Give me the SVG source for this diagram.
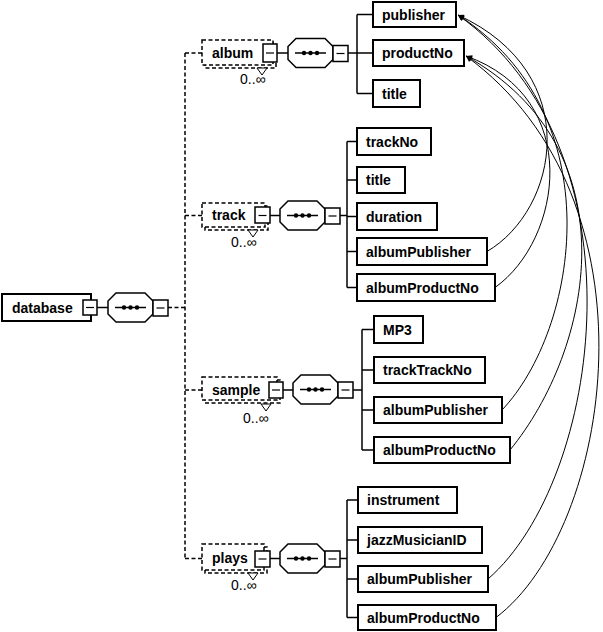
<svg xmlns="http://www.w3.org/2000/svg" xmlns:xlink="http://www.w3.org/1999/xlink" width="603" height="632" viewBox="0 0 603 632">
<style>
.box{fill:#fff;stroke:#000;stroke-width:2}
.dbox{fill:#fff;stroke:#000;stroke-width:1.5;stroke-dasharray:4,2.5}
.mbox{fill:#fff;stroke:#000;stroke-width:1.5}
.lbl{font-family:"Liberation Sans",Arial,sans-serif;font-weight:bold;font-size:14px;fill:#000}
.occ{font-family:"Liberation Sans",Arial,sans-serif;font-size:14px;fill:#000}
.ln{fill:none;stroke:#000;stroke-width:1.5}
.dln{fill:none;stroke:#000;stroke-width:1.5;stroke-dasharray:4,2.5}
.ref{fill:none;stroke:#000;stroke-width:1}
.tri{fill:#fff;stroke:#000;stroke-width:1}
</style>
<defs>
<marker id="ah" viewBox="0 0 10 10" refX="10" refY="5" markerWidth="8" markerHeight="6" markerUnits="userSpaceOnUse" orient="auto">
<path d="M0,0 L10,5 L0,10 z" fill="#000"/>
</marker>
<g id="seq">
<polygon points="8,0 37,0 45,8 45,21 37,29 8,29 0,21 0,8" fill="#fff" stroke="#000" stroke-width="1.5"/>
<line x1="7" y1="14.5" x2="38" y2="14.5" stroke="#000" stroke-width="1.5"/>
<circle cx="16" cy="14.5" r="2.2"/>
<circle cx="22.5" cy="14.5" r="2.2"/>
<circle cx="29" cy="14.5" r="2.2"/>
<rect x="45" y="7" width="15" height="16" fill="#fff" stroke="#000" stroke-width="1.5"/>
<line x1="48.5" y1="15" x2="56.5" y2="15" stroke="#000" stroke-width="1.2"/>
</g>
</defs>
<rect width="603" height="632" fill="#fff"/>

<g id="connectors">
<line class="ln" x1="97" y1="307.5" x2="108" y2="307.5"/>
<line class="dln" x1="168" y1="307.5" x2="185" y2="307.5"/>
<line class="dln" x1="185" y1="53" x2="185" y2="558.5"/>
<line class="dln" x1="185" y1="53" x2="202" y2="53"/>
<line class="dln" x1="185" y1="215.5" x2="202" y2="215.5"/>
<line class="dln" x1="185" y1="390" x2="202" y2="390"/>
<line class="dln" x1="185" y1="558.5" x2="202" y2="558.5"/>
<line class="ln" x1="277" y1="53" x2="288" y2="53"/>
<line class="ln" x1="348" y1="53" x2="357" y2="53"/>
<line class="ln" x1="357" y1="14.5" x2="357" y2="93.5"/>
<line class="ln" x1="357" y1="14.5" x2="373" y2="14.5"/>
<line class="ln" x1="357" y1="53" x2="373" y2="53"/>
<line class="ln" x1="357" y1="93.5" x2="373" y2="93.5"/>
<line class="ln" x1="270" y1="215.5" x2="280" y2="215.5"/>
<line class="ln" x1="340" y1="215.5" x2="347" y2="215.5"/>
<line class="ln" x1="347" y1="141.5" x2="347" y2="287.5"/>
<line class="ln" x1="347" y1="141.5" x2="357" y2="141.5"/>
<line class="ln" x1="347" y1="180" x2="357" y2="180"/>
<line class="ln" x1="347" y1="216.5" x2="357" y2="216.5"/>
<line class="ln" x1="347" y1="251.5" x2="357" y2="251.5"/>
<line class="ln" x1="347" y1="287.5" x2="357" y2="287.5"/>
<line class="ln" x1="283" y1="390" x2="293" y2="390"/>
<line class="ln" x1="353" y1="390" x2="362" y2="390"/>
<line class="ln" x1="362" y1="329.5" x2="362" y2="450"/>
<line class="ln" x1="362" y1="329.5" x2="374" y2="329.5"/>
<line class="ln" x1="362" y1="370" x2="374" y2="370"/>
<line class="ln" x1="362" y1="410" x2="374" y2="410"/>
<line class="ln" x1="362" y1="450" x2="374" y2="450"/>
<line class="ln" x1="270" y1="558.5" x2="280" y2="558.5"/>
<line class="ln" x1="340" y1="558.5" x2="347" y2="558.5"/>
<line class="ln" x1="347" y1="500" x2="347" y2="617.5"/>
<line class="ln" x1="347" y1="500" x2="358" y2="500"/>
<line class="ln" x1="347" y1="540" x2="358" y2="540"/>
<line class="ln" x1="347" y1="579" x2="358" y2="579"/>
<line class="ln" x1="347" y1="617.5" x2="358" y2="617.5"/>
<path class="ref" marker-end="url(#ah)" d="M487,251.5 C558,210 586,74 458,15"/>
<path class="ref" marker-end="url(#ah)" d="M495,287.5 C562,240 584,98 466,56"/>
<path class="ref" marker-end="url(#ah)" d="M502,410 C578,330 614,115 458,15"/>
<path class="ref" marker-end="url(#ah)" d="M510,450 C592,350 634,150 466,56"/>
<path class="ref" marker-end="url(#ah)" d="M488,579 C602,480 648,150 458,15"/>
<path class="ref" marker-end="url(#ah)" d="M496,617.5 C612,530 664,200 466,56"/>
</g>

<g id="database">
<rect class="box" x="2" y="294" width="89" height="27"/>
<text class="lbl" x="12" y="312.5">database</text>
<rect class="mbox" x="83" y="300" width="14" height="15"/>
<line x1="86" y1="307.5" x2="94" y2="307.5" stroke="#000" stroke-width="1.2"/>
</g>
<g id="database-seq"><use xlink:href="#seq" x="108" y="293"/></g>

<g id="album">
<rect class="dbox" x="205" y="43" width="71" height="25"/>
<rect class="dbox" x="202" y="40" width="71" height="25"/>
<text class="lbl" x="212" y="58">album</text>
<rect class="mbox" x="263" y="44" width="14" height="18"/>
<line x1="266" y1="53" x2="274" y2="53" stroke="#000" stroke-width="1.2"/>
<polygon class="tri" points="257,68 267,68 262,75"/>
<text class="occ" x="240" y="84">0..∞</text>
</g>
<g id="album-seq"><use xlink:href="#seq" x="288" y="38.5"/></g>
<g id="publisher"><rect class="box" x="373" y="2" width="83" height="25"/><text class="lbl" x="382" y="19.5">publisher</text></g>
<g id="productNo"><rect class="box" x="373" y="40" width="91" height="26"/><text class="lbl" x="382" y="58">productNo</text></g>
<g id="album-title"><rect class="box" x="373" y="80" width="47" height="27"/><text class="lbl" x="382" y="98.5">title</text></g>

<g id="track">
<rect class="dbox" x="205" y="206" width="63" height="24"/>
<rect class="dbox" x="202" y="203" width="63" height="24"/>
<text class="lbl" x="212" y="220">track</text>
<rect class="mbox" x="255" y="207" width="15" height="16"/>
<line x1="258.5" y1="215.5" x2="266.5" y2="215.5" stroke="#000" stroke-width="1.2"/>
<polygon class="tri" points="248,230 258,230 253,237"/>
<text class="occ" x="231" y="247">0..∞</text>
</g>
<g id="track-seq"><use xlink:href="#seq" x="280" y="201"/></g>
<g id="trackNo"><rect class="box" x="357" y="128" width="74" height="27"/><text class="lbl" x="366" y="146.5">trackNo</text></g>
<g id="track-title"><rect class="box" x="357" y="167" width="48" height="26"/><text class="lbl" x="366" y="185">title</text></g>
<g id="duration"><rect class="box" x="357" y="203" width="80" height="27"/><text class="lbl" x="366" y="221.5">duration</text></g>
<g id="track-albumPublisher"><rect class="box" x="357" y="238" width="130" height="27"/><text class="lbl" x="366" y="256.5">albumPublisher</text></g>
<g id="track-albumProductNo"><rect class="box" x="357" y="274" width="138" height="27"/><text class="lbl" x="366" y="292.5">albumProductNo</text></g>

<g id="sample">
<rect class="dbox" x="205" y="380" width="75" height="23"/>
<rect class="dbox" x="202" y="377" width="75" height="23"/>
<text class="lbl" x="212" y="394.5">sample</text>
<rect class="mbox" x="269" y="382" width="14" height="16"/>
<line x1="272" y1="390" x2="280" y2="390" stroke="#000" stroke-width="1.2"/>
<polygon class="tri" points="261,404 271,404 266,411"/>
<text class="occ" x="243" y="423">0..∞</text>
</g>
<g id="sample-seq"><use xlink:href="#seq" x="293" y="375"/></g>
<g id="MP3"><rect class="box" x="374" y="316" width="49" height="27"/><text class="lbl" x="383" y="334.5">MP3</text></g>
<g id="trackTrackNo"><rect class="box" x="374" y="357" width="111" height="26"/><text class="lbl" x="383" y="375">trackTrackNo</text></g>
<g id="sample-albumPublisher"><rect class="box" x="374" y="397" width="128" height="26"/><text class="lbl" x="383" y="415">albumPublisher</text></g>
<g id="sample-albumProductNo"><rect class="box" x="374" y="437" width="136" height="26"/><text class="lbl" x="383" y="455">albumProductNo</text></g>

<g id="plays">
<rect class="dbox" x="205" y="547" width="62" height="26"/>
<rect class="dbox" x="202" y="544" width="62" height="26"/>
<text class="lbl" x="212" y="563">plays</text>
<rect class="mbox" x="255" y="551" width="15" height="16"/>
<line x1="258.5" y1="559" x2="266.5" y2="559" stroke="#000" stroke-width="1.2"/>
<polygon class="tri" points="248,573 258,573 253,580"/>
<text class="occ" x="231" y="590">0..∞</text>
</g>
<g id="plays-seq"><use xlink:href="#seq" x="280" y="544"/></g>
<g id="instrument"><rect class="box" x="358" y="487" width="99" height="26"/><text class="lbl" x="367" y="505">instrument</text></g>
<g id="jazzMusicianID"><rect class="box" x="358" y="527" width="124" height="26"/><text class="lbl" x="367" y="545">jazzMusicianID</text></g>
<g id="plays-albumPublisher"><rect class="box" x="358" y="566" width="130" height="26"/><text class="lbl" x="367" y="584">albumPublisher</text></g>
<g id="plays-albumProductNo"><rect class="box" x="358" y="605" width="138" height="25"/><text class="lbl" x="367" y="622.5">albumProductNo</text></g>
</svg>
